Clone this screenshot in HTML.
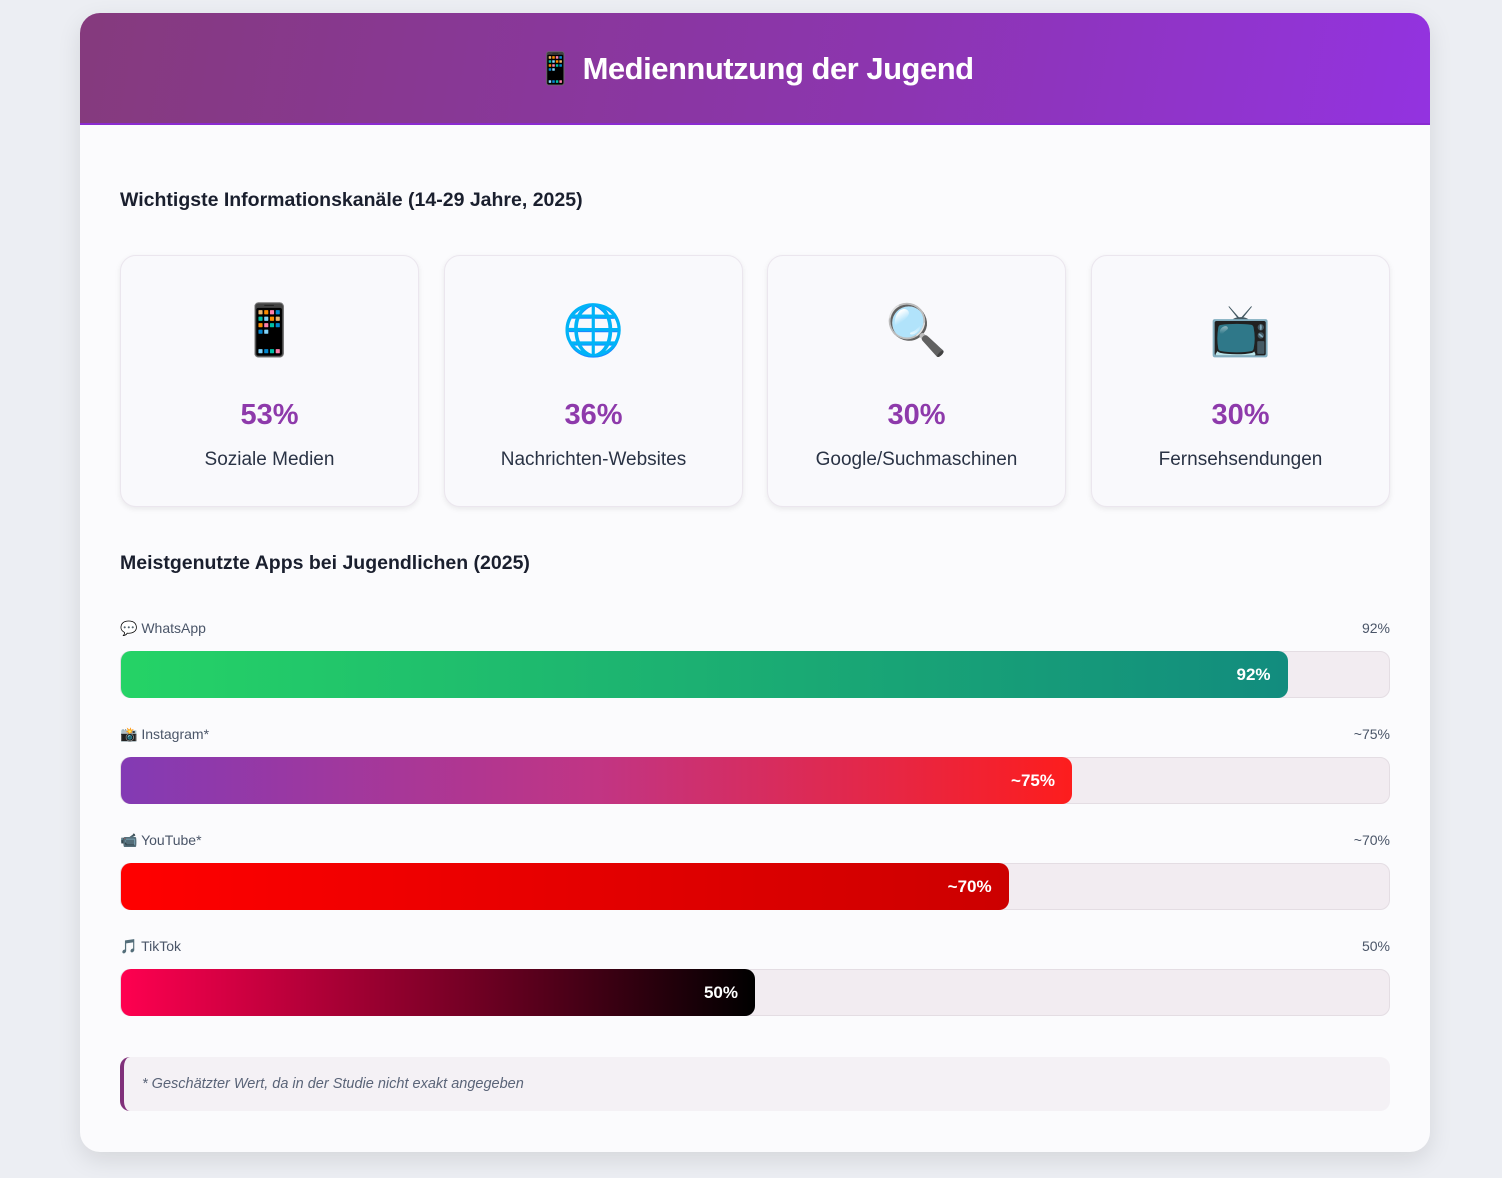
<!DOCTYPE html>
<html><head><meta charset="utf-8">
<style>
*{box-sizing:border-box;margin:0;padding:0}
body{width:1502px;height:1178px;background:#eceef3;font-family:"Liberation Sans","Noto Sans CJK JP",sans-serif;position:relative;overflow:hidden}
.container{position:absolute;left:80px;top:13px;width:1350px;height:1139px;background:#fbfbfd;border-radius:20px;box-shadow:0 8px 24px rgba(0,0,0,0.10);overflow:hidden}
.header{height:112px;background:linear-gradient(100deg,#853a7d 0%,#8c35b0 60%,#9333e0 100%);display:flex;align-items:center;justify-content:center;color:#fff;font-weight:bold;font-size:31px;letter-spacing:-0.5px;border-bottom:2px solid #8a2bd0}
.h2{position:absolute;left:40px;font-size:19.5px;font-weight:bold;color:#1a1f2e}
.card{position:absolute;top:242px;width:299px;height:252px;background:#f9f9fc;border:1px solid #ebe6ee;border-radius:16px;box-shadow:0 2px 6px rgba(0,0,0,0.08);text-align:center}
.card .ic{position:absolute;top:44px;left:0;right:0;font-size:50px;line-height:60px;color:#333}
.card .val{position:absolute;top:143px;left:0;right:0;font-size:29px;font-weight:bold;color:#8e3aab}
.card .lab{position:absolute;top:193px;left:0;right:0;font-size:19px;color:#2a3345}
.lbl{position:absolute;left:40px;font-size:14px;color:#4a5568}
.lblv{position:absolute;right:40px;font-size:14px;color:#4a5568}
.track{position:absolute;left:40px;width:1270px;height:47px;background:#f2ecf1;border:1px solid #e4dde3;border-radius:10px}
.fill{position:absolute;left:0;top:-1px;height:47px;border-radius:10px;color:#fff;font-weight:bold;font-size:17px;text-align:right;padding-right:17px;line-height:47px}
.note{position:absolute;left:40px;top:1044px;width:1270px;height:54px;background:#f4f1f5;border-left:4px solid #80307a;border-radius:10px;font-style:italic;color:#5a6478;font-size:14.5px;line-height:54px;padding-left:18px}
</style></head><body>
<div class="container">
  <div class="header">📱 Mediennutzung der Jugend</div>
  <div class="h2" style="top:176px">Wichtigste Informationskanäle (14-29 Jahre, 2025)</div>
  <div class="card" style="left:40px"><div class="ic">📱</div><div class="val">53%</div><div class="lab">Soziale Medien</div></div>
  <div class="card" style="left:364px"><div class="ic">🌐</div><div class="val">36%</div><div class="lab">Nachrichten-Websites</div></div>
  <div class="card" style="left:687px"><div class="ic">🔍</div><div class="val">30%</div><div class="lab">Google/Suchmaschinen</div></div>
  <div class="card" style="left:1011px"><div class="ic">📺</div><div class="val">30%</div><div class="lab">Fernsehsendungen</div></div>
  <div class="h2" style="top:539px">Meistgenutzte Apps bei Jugendlichen (2025)</div>
  <div id="bars"></div>
  <div class="note">* Geschätzter Wert, da in der Studie nicht exakt angegeben</div>
</div>
<script>
const apps = ["💬 WhatsApp","📸 Instagram*","📹 YouTube*","🎵 TikTok"];
const values = [92,75,70,50];
const valueLabels = ["92%","~75%","~70%","50%"];
const gradients = ["linear-gradient(90deg,#25d366,#128c7e)","linear-gradient(90deg,#833ab4,#c13584 50%,#fd1d1d)","linear-gradient(90deg,#ff0000,#cc0000)","linear-gradient(90deg,#ff0050,#000000)"];
const root=document.getElementById('bars');
const trackW=1268;
function x(v){return v/100*trackW;}
apps.forEach((a,i)=>{
  const top=607+i*106;
  const l=document.createElement('div');l.className='lbl';l.style.top=top+'px';l.textContent=a;
  
  
  const r=document.createElement('div');r.className='lblv';r.style.top=top+'px';r.textContent=valueLabels[i];
  
  
  const t=document.createElement('div');t.className='track';t.style.top=(top+31)+'px';
  
  
  const f=document.createElement('div');f.className='fill';f.style.width=x(values[i])+'px';f.style.background=gradients[i];f.textContent=valueLabels[i];
  
  
  t.appendChild(f);root.appendChild(l);root.appendChild(r);root.appendChild(t);
});
</script>
</body></html>
